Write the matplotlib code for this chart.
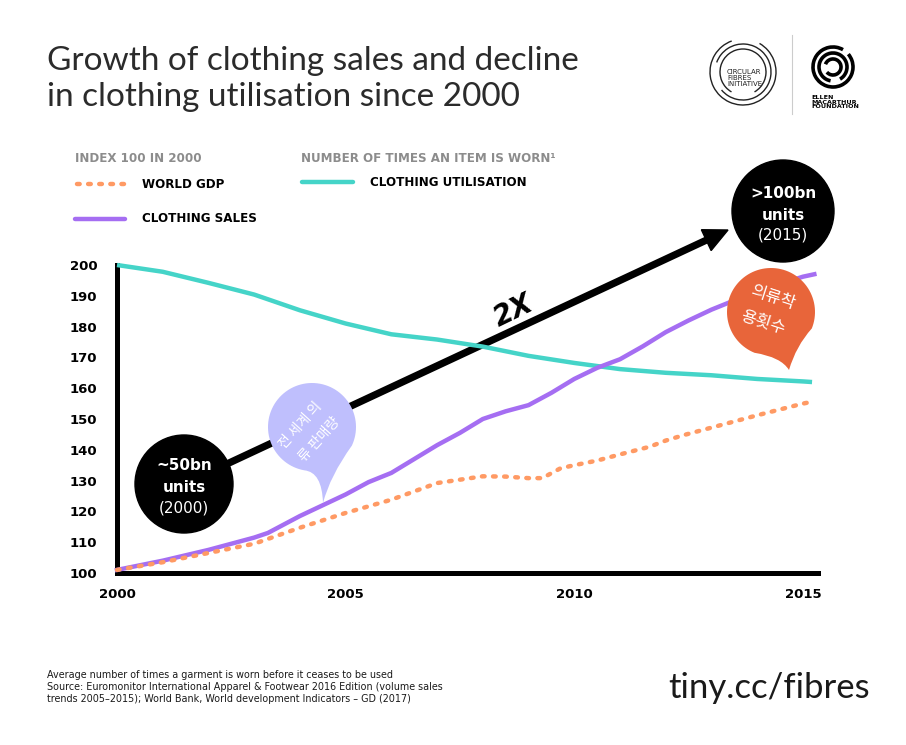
import numpy as np
import matplotlib
matplotlib.use("Agg")
import matplotlib.pyplot as plt
from matplotlib.patches import Polygon, Circle, Arc, PathPatch
from matplotlib.path import Path
from matplotlib.transforms import Affine2D

# --- data ---------------------------------------------------------------
util_years = [2000, 2001, 2002, 2003, 2004, 2005, 2006, 2007, 2008, 2009,
              2010, 2011, 2012, 2013, 2014, 2015, 2015.2]
util_values = [200, 197.8, 194.2, 190.4, 185.3, 181.0, 177.5, 175.8, 173.5,
               170.5, 168.2, 166.2, 165.0, 164.2, 163.0, 162.2, 162.0]

sales_years = [2000, 2001, 2002, 2003, 2003.3, 2004, 2005, 2005.5, 2006, 2006.5,
               2007, 2007.5, 2008, 2008.5, 2009, 2009.5, 2010, 2010.5, 2011,
               2011.5, 2012, 2012.5, 2013, 2013.5, 2014, 2014.5, 2015, 2015.25]
sales_values = [101, 104, 107.5, 111.5, 113, 118.5, 125.5, 129.5, 132.5, 137,
                141.5, 145.5, 150, 152.5, 154.5, 158.5, 163, 166.6, 169.4,
                173.6, 178.2, 182, 185.5, 188.5, 191, 193.8, 196.2, 197]

gdp_years = [2000, 2001, 2002, 2003, 2004, 2005, 2006, 2007, 2008, 2008.5,
             2009, 2009.3, 2009.7, 2010, 2010.5, 2011, 2011.65, 2012, 2012.4,
             2013, 2014, 2015, 2015.2]
gdp_values = [101, 103.5, 106.5, 109.5, 114.7, 119.5, 123.8, 129.2, 131.4, 131.3,
              130.8, 130.8, 134, 135, 136.5, 138.5, 141, 143, 144.8,
              147.2, 151.2, 155, 155.6]

x_ticks = [2000, 2005, 2010, 2015]
y_ticks = [100, 110, 120, 130, 140, 150, 160, 170, 180, 190, 200]

TEAL = "#45d4c8"
PURPLE = "#a56ef2"
ORANGE = "#ff9a64"
LILAC = "#bfbffd"
RED = "#e8653a"
GREY = "#8c8c8c"
INK = "#1a1a1a"
KR = ["Noto Sans CJK KR", "DejaVu Sans"]

W, H = 906, 745
fig = plt.figure(figsize=(W / 100, H / 100), dpi=100)
# pixel coords measured from top-left of the image
PX = Affine2D().scale(1 / W, -1 / H).translate(0, 1) + fig.transFigure


def fx(x):
    return x / W


def fy(y):
    return 1 - y / H


ax = fig.add_axes([117 / W, 1 - 573 / H, (818 - 117) / W, (573 - 265) / H])
ax.set_xlim(2000, 2015.33)
ax.set_ylim(100, 200)

ax.plot(util_years, util_values, color=TEAL, lw=3.2, zorder=4,
        solid_capstyle="butt", clip_on=False)
ax.plot(sales_years, sales_values, color=PURPLE, lw=3.2, zorder=4,
        solid_joinstyle="round", clip_on=False)
ax.plot(gdp_years, gdp_values, color=ORANGE, lw=3.2, zorder=4,
        linestyle=(0, (0.6, 1.9)), dash_capstyle="round", clip_on=False)

for s in ["top", "right"]:
    ax.spines[s].set_visible(False)
for s in ["left", "bottom"]:
    ax.spines[s].set_linewidth(3.6)
    ax.spines[s].set_capstyle("projecting")
ax.set_xticks(x_ticks)
ax.set_yticks(y_ticks)
ax.tick_params(length=0, labelsize=9.5, pad=14)
ax.tick_params(axis="x", pad=11)
for lab in ax.get_xticklabels() + ax.get_yticklabels():
    lab.set_fontweight("bold")

# --- arrow --------------------------------------------------------------
start = np.array([184.0, 484.0])
tip = np.array([728.0, 230.0])
d = (tip - start) / np.linalg.norm(tip - start)
n = np.array([-d[1], d[0]])
base = tip - 24 * d
ax.plot([start[0], base[0] + 2 * d[0]], [start[1], base[1] + 2 * d[1]],
        color="black", lw=5.2, transform=PX, zorder=3, clip_on=False,
        solid_capstyle="butt")
ax.add_patch(Polygon([tip, base + 11.5 * n, base - 11.5 * n], closed=True,
                     color="black", transform=PX, zorder=3, clip_on=False))
ax.text(514, 311, "2X", transform=PX, rotation=26, ha="center", va="center",
        fontsize=20, fontweight="heavy", style="italic", zorder=6)


def bubble(cx, cy, r, a_right, a_left, tip, c_left, c_right, color):
    angs = np.radians(np.linspace(a_right, a_left - 360, 80))
    verts = [(cx + r * np.cos(a), cy + r * np.sin(a)) for a in angs]
    codes = [Path.MOVETO] + [Path.LINETO] * (len(verts) - 1)
    verts += [c_left, tip, c_right, verts[0], verts[0]]
    codes += [Path.CURVE3, Path.CURVE3, Path.CURVE3, Path.CURVE3, Path.CLOSEPOLY]
    ax.add_patch(PathPatch(Path(verts, codes), facecolor=color, edgecolor="none",
                           transform=PX, zorder=5, clip_on=False))


# lilac bubble
bubble(312, 427, 44, 25, 100, (323, 503), (322, 472), (330, 476), LILAC)
ax.text(300, 425, "전 세계 의", transform=PX, rotation=48, ha="center",
        va="center", fontsize=10, color="white", family=KR, zorder=6)
ax.text(319, 440, "류 판매량", transform=PX, rotation=48, ha="center",
        va="center", fontsize=10, color="white", family=KR, zorder=6)

# orange bubble
bubble(771, 312, 44, 22, 112, (789, 370), (781, 357), (796, 346), RED)
ax.text(773, 298, "의류착", transform=PX, rotation=-18, ha="center", va="center",
        fontsize=12, color="white", family=KR, zorder=6)
ax.text(763, 323, "용횟수", transform=PX, rotation=-18, ha="center", va="center",
        fontsize=12, color="white", family=KR, zorder=6)

# black circles
for (cx, cy, r, l1, l3) in [(184, 484, 49, "~50bn", "(2000)"),
                            (783, 211, 51, ">100bn", "(2015)")]:
    ax.add_patch(Circle((cx, cy), r, color="black", transform=PX, zorder=5,
                        clip_on=False))
    ax.text(cx, cy - 18, l1, transform=PX, ha="center", va="center", fontsize=11,
            fontweight="bold", color="white", zorder=6)
    ax.text(cx, cy + 4, "units", transform=PX, ha="center", va="center",
            fontsize=11, fontweight="bold", color="white", zorder=6)
    ax.text(cx, cy + 24, l3, transform=PX, ha="center", va="center", fontsize=11,
            color="white", zorder=6)

# --- title and legend ----------------------------------------------------
fig.text(fx(47), fy(61), "Growth of clothing sales and decline", fontsize=24,
         family="Lato", color="#2b2b2b", va="center")
fig.text(fx(47), fy(97), "in clothing utilisation since 2000", fontsize=24,
         family="Lato", color="#2b2b2b", va="center")

fig.text(fx(75), fy(159), "INDEX 100 IN 2000", fontsize=8.6, fontweight="bold",
         color=GREY, va="center")
fig.text(fx(301), fy(159), "NUMBER OF TIMES AN ITEM IS WORN¹", fontsize=8.6,
         fontweight="bold", color=GREY, va="center")

fig.add_artist(plt.Line2D([fx(77), fx(124)], [fy(184), fy(184)], color=ORANGE,
                          lw=3.2, linestyle=(0, (0.6, 1.9)), dash_capstyle="round"))
fig.text(fx(142), fy(185), "WORLD GDP", fontsize=8.6, fontweight="bold", va="center")
fig.add_artist(plt.Line2D([fx(75), fx(125)], [fy(219), fy(219)], color=PURPLE,
                          lw=3.2, solid_capstyle="round"))
fig.text(fx(142), fy(219), "CLOTHING SALES", fontsize=8.6, fontweight="bold",
         va="center")
fig.add_artist(plt.Line2D([fx(302), fx(353)], [fy(182), fy(182)], color=TEAL,
                          lw=3.2, solid_capstyle="round"))
fig.text(fx(370), fy(182), "CLOTHING UTILISATION", fontsize=8.6, fontweight="bold",
         va="center")

# --- logos ----------------------------------------------------------------
for r, t1, t2 in [(33, -60, 250), (28, 200, 500), (23, 120, 420)]:
    ax.add_patch(Arc((743, 72), 2 * r, 2 * r, theta1=t1, theta2=t2, lw=1.0,
                     color="#222222", transform=PX, clip_on=False))
fig.text(fx(727), fy(78), "CIRCULAR\nFIBRES\nINITIATIVE", fontsize=5.0,
         va="center", linespacing=1.0, color="#222222")
fig.add_artist(plt.Line2D([fx(792), fx(792)], [fy(35), fy(114)], color="#cccccc",
                          lw=0.8))
for r, t1, t2 in [(20, -40, 300), (14, 100, 420), (8, 200, 500)]:
    ax.add_patch(Arc((833, 67), 2 * r, 2 * r, theta1=t1, theta2=t2, lw=2.6,
                     color="black", transform=PX, clip_on=False))
fig.text(fx(811), fy(102), "ELLEN\nMACARTHUR\nFOUNDATION", fontsize=4.6,
         fontweight="heavy", va="center", linespacing=0.95)

# --- footer ---------------------------------------------------------------
fig.text(fx(47), fy(687),
         "Average number of times a garment is worn before it ceases to be used\n"
         "Source: Euromonitor International Apparel & Footwear 2016 Edition (volume sales\n"
         "trends 2005–2015); World Bank, World development Indicators – GD (2017)",
         fontsize=6.9, va="center", linespacing=1.2, color=INK)
fig.text(fx(870), fy(688), "tiny.cc/fibres", fontsize=25, family="Lato",
         color=INK, ha="right", va="center")

fig.savefig("out.png", dpi=100)
